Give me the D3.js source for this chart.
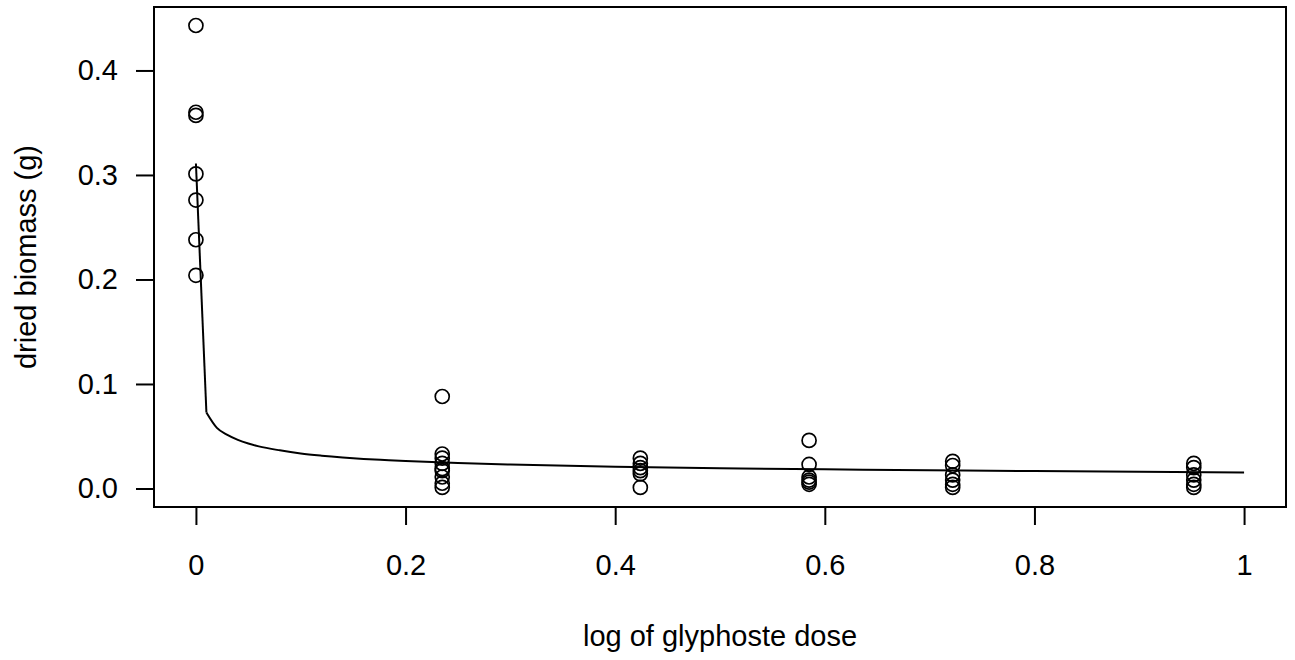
<!DOCTYPE html>
<html>
<head>
<meta charset="utf-8">
<script src="https://cdn.jsdelivr.net/npm/d3@7"></script>
<style>
  html, body { margin: 0; padding: 0; background: #fff; }
  svg { display: block; }
  text { font-family: "Liberation Sans", Arial, sans-serif; fill: #000; }
</style>
</head>
<body>
<script>
// ---- data ----
const doseLevels = [0, 0.235, 0.424, 0.585, 0.722, 0.952];
const biomass0     = [0.443, 0.360, 0.357, 0.301, 0.276, 0.238, 0.204];
const biomass0235  = [0.088, 0.033, 0.029, 0.024, 0.019, 0.017, 0.011, 0.005, 0.001];
const biomass0424  = [0.029, 0.024, 0.020, 0.017, 0.014, 0.001];
const biomass0585  = [0.046, 0.023, 0.011, 0.008, 0.006, 0.004];
const biomass0722  = [0.026, 0.022, 0.013, 0.008, 0.004, 0.001];
const biomass0952  = [0.024, 0.020, 0.013, 0.008, 0.004, 0.001];
const biomassGroups = [biomass0, biomass0235, biomass0424, biomass0585, biomass0722, biomass0952];

const fitX = [0, 0.01, 0.02, 0.03, 0.04, 0.05, 0.06, 0.08, 0.10, 0.12, 0.14, 0.16, 0.18, 0.20, 0.25, 0.30, 0.40, 0.50, 0.60, 0.70, 0.80, 0.90, 1.00];
const fitY = [0.311, 0.0727, 0.058, 0.0513, 0.0465, 0.043, 0.0403, 0.0365, 0.0335, 0.0314, 0.0297, 0.0283, 0.0272, 0.0262, 0.0243, 0.0229, 0.0208, 0.0194, 0.0183, 0.0175, 0.0167, 0.0160, 0.0154];

const xTicks = [0, 0.2, 0.4, 0.6, 0.8, 1];
const xTickLabels = ["0", "0.2", "0.4", "0.6", "0.8", "1"];
const yTicks = [0, 0.1, 0.2, 0.3, 0.4];
const yTickLabels = ["0.0", "0.1", "0.2", "0.3", "0.4"];
const xTitle = "log of glyphoste dose";
const yTitle = "dried biomass (g)";

// ---- layout ----
const W = 1295, H = 660;
const plot = { left: 154, right: 1286, top: 7, bottom: 507 };
const fontSize = 29;

const points = [];
doseLevels.forEach((d, i) => biomassGroups[i].forEach(v => points.push({ x: d, y: v })));

function rExtend(ext) { const r = ext[1] - ext[0]; return [ext[0] - 0.04 * r, ext[1] + 0.04 * r]; }

const x = d3.scaleLinear().domain(rExtend([0, 1])).range([plot.left, plot.right]);
const y = d3.scaleLinear().domain(rExtend([0, d3.max(points, p => p.y)])).range([plot.bottom, plot.top]);

const svg = d3.select("body").append("svg").attr("width", W).attr("height", H);

// fitted curve: straight drop for the first segment, smooth afterwards
const fit = fitX.map((v, i) => ({ x: v, y: fitY[i] }));
const lineLin = d3.line().x(d => x(d.x)).y(d => y(d.y));
const lineSmooth = d3.line().x(d => x(d.x)).y(d => y(d.y)).curve(d3.curveMonotoneX);
svg.append("path").datum(fit.slice(0, 2)).attr("d", lineLin)
  .attr("fill", "none").attr("stroke", "#000").attr("stroke-width", 2);
svg.append("path").datum(fit.slice(1)).attr("d", lineSmooth)
  .attr("fill", "none").attr("stroke", "#000").attr("stroke-width", 2);

// points
svg.append("g").selectAll("circle").data(points).join("circle")
  .attr("cx", d => x(d.x)).attr("cy", d => y(d.y)).attr("r", 7)
  .attr("fill", "none").attr("stroke", "#000").attr("stroke-width", 1.7);

// box
svg.append("rect").attr("x", plot.left).attr("y", plot.top)
  .attr("width", plot.right - plot.left).attr("height", plot.bottom - plot.top)
  .attr("fill", "none").attr("stroke", "#000").attr("stroke-width", 2);

// x axis
const xAxis = d3.axisBottom(x).tickValues(xTicks).tickSize(18)
  .tickFormat((d, i) => xTickLabels[i]).tickPadding(29);
const gx = svg.append("g").attr("transform", `translate(0,${plot.bottom})`).call(xAxis);
gx.select(".domain").attr("d", `M${x(xTicks[0])},0H${x(xTicks[xTicks.length - 1])}`).attr("stroke-width", 2);
gx.selectAll(".tick line").attr("stroke-width", 2);
gx.selectAll("text").attr("font-size", fontSize).attr("font-family", "Liberation Sans, Arial, sans-serif");

// y axis
const yAxis = d3.axisLeft(y).tickValues(yTicks).tickSize(18)
  .tickFormat((d, i) => yTickLabels[i]).tickPadding(18);
const gy = svg.append("g").attr("transform", `translate(${plot.left},0)`).call(yAxis);
gy.select(".domain").attr("d", `M0,${y(yTicks[0])}V${y(yTicks[yTicks.length - 1])}`).attr("stroke-width", 2);
gy.selectAll(".tick line").attr("stroke-width", 2);
gy.selectAll("text").attr("font-size", fontSize).attr("font-family", "Liberation Sans, Arial, sans-serif");

// titles
svg.append("text").attr("x", (plot.left + plot.right) / 2).attr("y", 646)
  .attr("text-anchor", "middle").attr("font-size", fontSize).text(xTitle);
svg.append("text").attr("transform", `translate(36,${(plot.top + plot.bottom) / 2}) rotate(-90)`)
  .attr("text-anchor", "middle").attr("font-size", fontSize).text(yTitle);
</script>
</body>
</html>
